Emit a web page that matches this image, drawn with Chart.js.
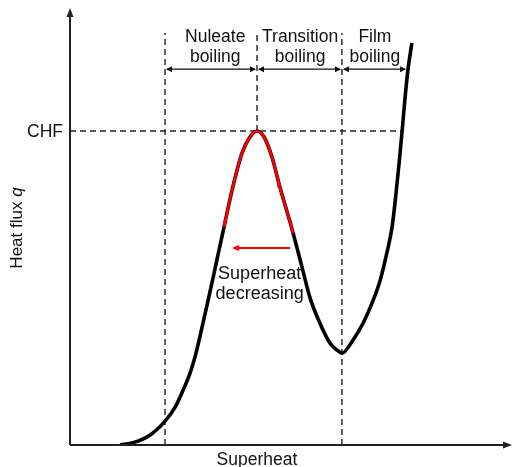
<!DOCTYPE html>
<html>
<head>
<meta charset="utf-8">
<script src="https://cdn.jsdelivr.net/npm/chart.js@4/dist/chart.umd.min.js"></script>
<style>
  html, body { margin: 0; padding: 0; background: #fff; }
  canvas { display: block; }
</style>
</head>
<body>
<canvas id="c" width="512" height="467"></canvas>
<script>
// Pool boiling curve: heat flux q against wall superheat (arbitrary units, 0-100)
const superheat = [11.4, 14.3, 18.2, 21.6, 23.9, 25.7, 27.3, 28.4, 29.5, 31.4, 33.0, 35.0, 37.0, 39.1,
                   40.9, 42.5, 44.1, 45.9, 47.7, 50.0, 50.7, 51.6, 53.0, 54.5, 56.8, 59.1, 60.7, 61.8,
                   64.3, 66.6, 68.9, 70.5, 72.0, 73.2, 74.1, 74.8, 75.5, 76.1, 76.8, 77.7];
const heatFlux  = [0.0, 0.5, 2.3, 5.5, 8.7, 12.6, 16.6, 20.2, 24.8, 33.3, 40.7, 50.1, 59.3, 67.1,
                   70.8, 72.2, 70.8, 66.2, 59.3, 51.3, 48.7, 45.3, 39.8, 34.0, 28.0, 23.4, 21.8, 21.1,
                   24.1, 28.0, 33.3, 37.9, 44.1, 50.1, 57.9, 64.8, 72.4, 79.3, 86.2, 92.4];

// Regime boundaries along the superheat axis, end of the film-boiling span, and CHF level
const boundaries = [21.6, 42.5, 61.8];
const filmEnd = 76.6;
const chf = 72.2;
const regimeTop = 94.7;
const regimeArrowLevel = 86.4;
const regimeNames = [["Nuleate", "boiling"], ["Transition", "boiling"], ["Film", "boiling"]];
const regimeCenters = [33.0, 52.3, 69.3];

// Portion of the curve traversed while the superheat is lowered (highlighted in red)
const decreasingRange = [35.0, 50.7];
const decreasingArrow = { from: 50.0, to: 36.8, level: 45.3 };

const curve = superheat.map((x, i) => ({ x, y: heatFlux[i] }));
const redPart = curve.filter(p => p.x >= decreasingRange[0] && p.x <= decreasingRange[1]);

// superheat at which the film-boiling branch climbs back to CHF
const minIdx = heatFlux.indexOf(Math.min(...heatFlux.slice(15)), 15);
let chfReach = superheat[superheat.length - 1];
for (let i = minIdx; i < curve.length - 1; i++) {
  if (heatFlux[i] <= chf && heatFlux[i + 1] >= chf) {
    const t = (chf - heatFlux[i]) / (heatFlux[i + 1] - heatFlux[i]);
    chfReach = superheat[i] + t * (superheat[i + 1] - superheat[i]);
    break;
  }
}

const FONT = '"Liberation Sans", Arial, Helvetica, sans-serif';
const INK = '#111';
const dash = { borderColor: '#222', borderWidth: 1.4, borderDash: [6, 4], pointRadius: 0, showLine: true, fill: false, tension: 0 };

const guideLines = boundaries.map((b, i) => ({
  ...dash,
  data: [{ x: b, y: i === 1 ? chf : 0 }, { x: b, y: regimeTop }]
}));
guideLines.push({ ...dash, data: [{ x: 0, y: chf }, { x: chfReach, y: chf }] });

function arrowHead(ctx, x, y, angle, len, half) {
  ctx.save();
  ctx.translate(x, y);
  ctx.rotate(angle);
  ctx.beginPath();
  ctx.moveTo(0, 0);
  ctx.lineTo(-len, -half);
  ctx.lineTo(-len, half);
  ctx.closePath();
  ctx.fill();
  ctx.restore();
}

const decorations = {
  id: 'decorations',
  afterDatasetsDraw(chart) {
    const { ctx, chartArea: a, scales } = chart;
    const X = v => scales.x.getPixelForValue(v);
    const Y = v => scales.y.getPixelForValue(v);
    ctx.save();

    // axes with arrowheads
    ctx.strokeStyle = '#222';
    ctx.fillStyle = '#222';
    ctx.lineWidth = 2;
    ctx.beginPath();
    ctx.moveTo(a.left, a.bottom);
    ctx.lineTo(a.left, a.top + 4);
    ctx.moveTo(a.left, a.bottom);
    ctx.lineTo(a.right - 4, a.bottom);
    ctx.stroke();
    arrowHead(ctx, a.left, a.top - 2, -Math.PI / 2, 9, 3.5);
    arrowHead(ctx, a.right + 2, a.bottom, 0, 9, 3.5);

    // regime spans with double-headed arrows
    const ay = Y(regimeArrowLevel);
    const edges = [...boundaries, filmEnd];
    ctx.strokeStyle = INK;
    ctx.fillStyle = INK;
    ctx.lineWidth = 1.4;
    for (let i = 0; i < 3; i++) {
      const x0 = X(edges[i]), x1 = X(edges[i + 1]);
      ctx.beginPath();
      ctx.moveTo(x0 + 2, ay);
      ctx.lineTo(x1 - 2, ay);
      ctx.stroke();
      arrowHead(ctx, x0 + 1, ay, Math.PI, 6, 3);
      arrowHead(ctx, x1 - 1, ay, 0, 6, 3);
    }

    // regime names
    ctx.font = '17.5px ' + FONT;
    ctx.textAlign = 'center';
    ctx.textBaseline = 'alphabetic';
    regimeNames.forEach((lines, i) => {
      ctx.fillText(lines[0], X(regimeCenters[i]), ay - 27);
      ctx.fillText(lines[1], X(regimeCenters[i]), ay - 7);
    });

    // CHF label
    ctx.textAlign = 'right';
    ctx.fillText('CHF', a.left - 7, Y(chf) + 6);

    // axis titles
    ctx.textAlign = 'center';
    ctx.fillText('Superheat', X(boundaries[1]), a.bottom + 20);
    ctx.save();
    ctx.translate(22, 228);
    ctx.rotate(-Math.PI / 2);
    ctx.font = '17px ' + FONT;
    const w1 = ctx.measureText('Heat flux ').width;
    ctx.font = 'italic 17px ' + FONT;
    const w2 = ctx.measureText('q').width;
    ctx.textAlign = 'left';
    ctx.font = '17px ' + FONT;
    ctx.fillText('Heat flux ', -(w1 + w2) / 2, 0);
    ctx.font = 'italic 17px ' + FONT;
    ctx.fillText('q', -(w1 + w2) / 2 + w1, 0);
    ctx.restore();

    // "superheat decreasing" arrow and caption
    ctx.strokeStyle = '#f00';
    ctx.fillStyle = '#f00';
    ctx.lineWidth = 2;
    const ry = Y(decreasingArrow.level);
    ctx.beginPath();
    ctx.moveTo(X(decreasingArrow.from), ry);
    ctx.lineTo(X(decreasingArrow.to) + 5, ry);
    ctx.stroke();
    arrowHead(ctx, X(decreasingArrow.to), ry, Math.PI, 7, 3);

    // small direction marks on the red path
    const first = redPart[0], nb = redPart[1];
    arrowHead(ctx, X(first.x), Y(first.y),
      Math.atan2(Y(first.y) - Y(nb.y), X(first.x) - X(nb.x)), 5, 2.5);
    const up = redPart[redPart.length - 4], down = redPart[redPart.length - 3];
    const mx = X(47.3), my = Y(60.5);
    arrowHead(ctx, mx, my, Math.atan2(Y(up.y) - Y(down.y), X(up.x) - X(down.x)), 5, 2.5);

    ctx.fillStyle = INK;
    ctx.font = '18px ' + FONT;
    ctx.textAlign = 'center';
    ctx.fillText('Superheat', X(43.1), ry + 31);
    ctx.fillText('decreasing', X(43.1), ry + 51);

    ctx.restore();
  }
};

const curveStyle = { showLine: true, cubicInterpolationMode: 'monotone', pointRadius: 0, fill: false };

new Chart(document.getElementById('c'), {
  type: 'scatter',
  data: {
    datasets: [
      { ...curveStyle, data: redPart, borderColor: '#f00', borderWidth: 2.6 },
      { ...curveStyle, data: curve, borderColor: '#000', borderWidth: 3.6 },
      ...guideLines
    ]
  },
  options: {
    responsive: false,
    animation: false,
    devicePixelRatio: 1,
    layout: { padding: { left: 70, right: 2, top: 10, bottom: 22 } },
    plugins: { legend: { display: false }, tooltip: { enabled: false } },
    scales: {
      x: { type: 'linear', min: 0, max: 100, display: false },
      y: { type: 'linear', min: 0, max: 100, display: false }
    }
  },
  plugins: [decorations]
});
</script>
</body>
</html>
